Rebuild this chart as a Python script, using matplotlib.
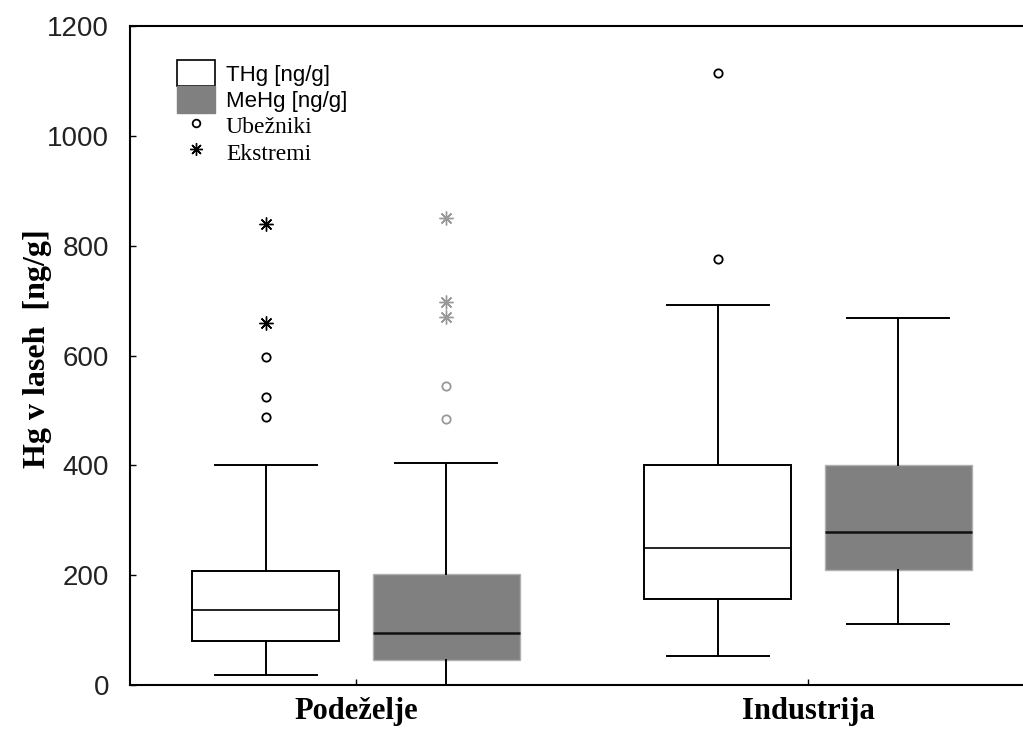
import matplotlib
matplotlib.use('Agg')
import matplotlib.pyplot as plt
from matplotlib.patches import Patch
from matplotlib.lines import Line2D

# Skupine na osi x
skupine = ['Podeželje', 'Industrija']
serije = ['THg [ng/g]', 'MeHg [ng/g]']
legenda_tocke = ['Ubežniki', 'Ekstremi']

# THg: spodnji brk, Q1, mediana, Q3, zgornji brk
thg_spodaj = [18, 53]
thg_q1 = [80, 156]
thg_med = [137, 249]
thg_q3 = [207, 400]
thg_zgoraj = [400, 692]
thg_ubezniki = [[488, 524, 597], [776, 1114]]
thg_ekstremi = [[660, 840], []]

# MeHg
mehg_spodaj = [0, 111]
mehg_q1 = [45, 209]
mehg_med = [95, 278]
mehg_q3 = [202, 400]
mehg_zgoraj = [405, 669]
mehg_ubezniki = [[485, 545], []]
mehg_ekstremi = [[670, 698, 850], []]

y_ticks = [0, 200, 400, 600, 800, 1000, 1200]

SANS = 'Liberation Sans'
SERIF = 'Liberation Serif'
SIVA = '#808080'


def statistika(spodaj, q1, med, q3, zgoraj):
    return [dict(whislo=a, q1=b, med=c, q3=d, whishi=e, fliers=[])
            for a, b, c, d, e in zip(spodaj, q1, med, q3, zgoraj)]


fig = plt.figure(figsize=(10.23, 7.33), dpi=100)
# desni rob osi je izven slike (kot na originalu)
ax = fig.add_axes([130 / 1023, 48 / 733, 904 / 1023, 659 / 733])

pozicije = [1, 2]
odmik = 0.2
sirina = 0.325
lw = 1.4

pos_thg = [p - odmik for p in pozicije]
pos_mehg = [p + odmik for p in pozicije]

ax.bxp(statistika(thg_spodaj, thg_q1, thg_med, thg_q3, thg_zgoraj),
       positions=pos_thg, widths=sirina, capwidths=0.226, patch_artist=True,
       showfliers=False,
       boxprops=dict(facecolor='white', edgecolor='black', linewidth=lw),
       whiskerprops=dict(color='black', linewidth=lw),
       capprops=dict(color='black', linewidth=lw),
       medianprops=dict(color='black', linewidth=1.2))

ax.bxp(statistika(mehg_spodaj, mehg_q1, mehg_med, mehg_q3, mehg_zgoraj),
       positions=pos_mehg, widths=sirina, capwidths=0.226, patch_artist=True,
       showfliers=False,
       boxprops=dict(facecolor=SIVA, edgecolor='#b0b0b0', linewidth=1.0),
       whiskerprops=dict(color='black', linewidth=lw),
       capprops=dict(color='black', linewidth=lw),
       medianprops=dict(color='#111111', linewidth=1.8))

zvezda = (8, 2, 0)

# ubezniki in ekstremi
for i in range(len(skupine)):
    ax.plot([pos_thg[i]] * len(thg_ubezniki[i]), thg_ubezniki[i], ls='none',
            marker='o', ms=6, mfc='white', mec='black', mew=1.3)
    ax.plot([pos_thg[i]] * len(thg_ekstremi[i]), thg_ekstremi[i], ls='none',
            marker=zvezda, ms=10, color='black', mew=1.0)
    ax.plot([pos_mehg[i]] * len(mehg_ubezniki[i]), mehg_ubezniki[i], ls='none',
            marker='o', ms=6, mfc='white', mec='#999999', mew=1.3)
    ax.plot([pos_mehg[i]] * len(mehg_ekstremi[i]), mehg_ekstremi[i], ls='none',
            marker=zvezda, ms=10, color='#999999', mew=1.0)

ax.set_xlim(0.5, 2.5)
ax.set_ylim(0, 1200)
ax.set_yticks(y_ticks)
ax.set_yticklabels([str(t) for t in y_ticks], fontfamily=SANS, fontsize=20,
                   color='#222222')
ax.set_xticks(pozicije)
ax.set_xticklabels(skupine, fontfamily=SERIF, fontweight='bold', fontsize=22)
ax.tick_params(axis='y', direction='in', length=4, width=1, pad=15)
ax.tick_params(axis='x', direction='in', length=4, width=1, pad=9)
for s in ax.spines.values():
    s.set_linewidth(1.5)

ax.set_ylabel('Hg v laseh  [ng/g]', fontfamily=SERIF, fontweight='bold',
              fontsize=23)
ax.yaxis.set_label_coords(-0.086, 0.51)

# legenda
rocaji = [
    Patch(facecolor='white', edgecolor='black', linewidth=1.2, label=serije[0]),
    Patch(facecolor=SIVA, edgecolor=SIVA, label=serije[1]),
    Line2D([], [], ls='none', marker='o', ms=5.5, mfc='white', mec='black',
           mew=1.3, label=legenda_tocke[0]),
    Line2D([], [], ls='none', marker=zvezda, ms=9, color='black', mew=1.0,
           label=legenda_tocke[1]),
]
leg = fig.legend(handles=rocaji, loc='upper left',
                 bbox_to_anchor=(177 / 1023, 1 - 60 / 733),
                 frameon=False, borderpad=0, borderaxespad=0,
                 handlelength=1.7, handleheight=1.45, labelspacing=0.0,
                 handletextpad=0.5, numpoints=1,
                 prop=dict(family=SANS, size=16))
for t in leg.get_texts()[2:]:
    t.set_fontfamily(SERIF)
    t.set_fontsize(17)

fig.savefig('out.png', dpi=100)
